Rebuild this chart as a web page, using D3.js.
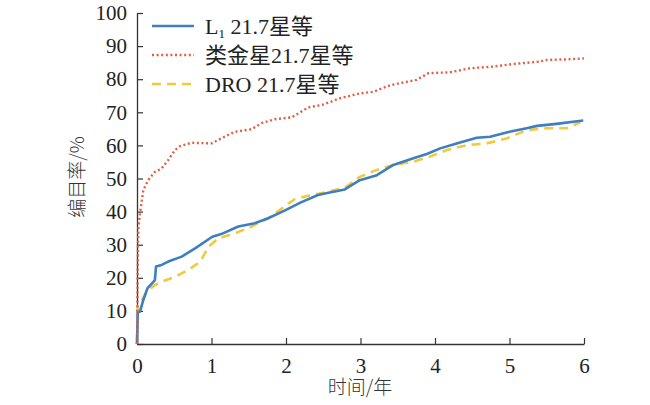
<!DOCTYPE html>
<html><head><meta charset="utf-8">
<script src="https://cdn.jsdelivr.net/npm/d3@7"></script>
<style>body{margin:0;background:#fff}svg{display:block}</style>
</head><body>
<svg id="c" width="650" height="405"></svg>
<script>
const seriesNames = ["L\u2081 21.7星等", "类金星21.7星等", "DRO 21.7星等"];
const l1X = [0,0.01,0.04,0.085,0.14,0.22,0.24,0.255,0.33,0.42,0.6,0.78,1.01,1.13,1.36,1.58,1.76,1.98,2.2,2.43,2.57,2.79,2.99,3.22,3.44,3.71,3.89,4.07,4.29,4.56,4.74,5.0,5.23,5.37,5.63,5.99];
const l1Y = [0,9.5,9.8,13.3,16.8,18.8,19.3,23.4,23.9,24.9,26.4,28.9,32.4,33.2,35.5,36.5,38,40.3,42.8,45,45.7,46.7,49.5,51.0,54.1,56.1,57.4,59.1,60.6,62.3,62.6,64.1,65.2,65.9,66.5,67.5];
const venusX = [0,0.005,0.012,0.02,0.04,0.085,0.15,0.24,0.33,0.42,0.51,0.58,0.73,1.0,1.13,1.31,1.54,1.67,1.85,2.08,2.3,2.48,2.72,2.99,3.17,3.4,3.75,3.91,4.2,4.47,4.78,5.05,5.41,5.48,5.77,6.0];
const venusY = [0,12,29.5,35,39.5,46.5,49.5,52,53,55.6,58.6,59.8,60.8,60.6,62.1,64.1,64.9,66.7,67.9,68.5,71.5,72.2,74.2,75.7,76.2,78.2,79.8,81.8,82.1,83.3,83.8,84.6,85.3,85.8,86.0,86.3];
const droX = [0,0.01,0.04,0.13,0.24,0.33,0.51,0.69,0.85,0.96,1.09,1.31,1.54,1.76,1.98,2.12,2.3,2.52,2.79,2.99,3.22,3.44,3.71,3.93,4.16,4.43,4.69,4.96,5.23,5.5,5.77,5.95];
const droY = [0,11.5,12.3,15.8,17.8,18.8,20.3,22.4,24.9,29.4,31.9,33.4,35.5,38,41.5,43.8,44.8,45.8,47.2,50.5,52.6,54.1,55.1,56.6,58.6,60.1,60.6,62.1,64.6,65.2,65.2,67.0];
const xTicks = [0,1,2,3,4,5,6];
const yTicks = [0,10,20,30,40,50,60,70,80,90,100];

const svg = d3.select("#c");
const x = d3.scaleLinear().domain([0,6]).range([137,584]);
const y = d3.scaleLinear().domain([0,100]).range([344,13]);
const serif = "'Liberation Serif','Times New Roman',serif";
const cjk = "'Noto Sans CJK SC','Noto Sans',sans-serif";

const xa = svg.append("g").attr("transform","translate(0,344)")
  .call(d3.axisBottom(x).tickValues(xTicks).tickSizeInner(-6).tickSizeOuter(0).tickPadding(14).tickFormat(d3.format("d")));
const ya = svg.append("g").attr("transform","translate(137,0)")
  .call(d3.axisLeft(y).tickValues(yTicks).tickSizeInner(-6).tickSizeOuter(0).tickPadding(10).tickFormat(d3.format("d")));
[xa,ya].forEach(a=>{
  a.select(".domain").attr("stroke","#333").attr("stroke-width",1.3);
  a.selectAll(".tick line").attr("stroke","#333").attr("stroke-width",1.2);
  a.selectAll("text").attr("font-family",serif).attr("font-size",21).attr("fill","#222");
});

const line = d3.line().x(d=>x(d[0])).y(d=>y(d[1]));
const styles = [
  {c:"#3d7fc0", w:2.6, dash:null},
  {c:"#de6048", w:2.4, dash:"2,2.6"},
  {c:"#f2c93c", w:2.6, dash:"9,6"}
];
const data = [
  d3.zip(l1X,l1Y), d3.zip(venusX,venusY), d3.zip(droX,droY)
];
[2,0,1].forEach(i=>{
  svg.append("path").datum(data[i]).attr("d",line).attr("fill","none")
    .attr("stroke",styles[i].c).attr("stroke-width",styles[i].w)
    .attr("stroke-dasharray",styles[i].dash).attr("stroke-linejoin","round");
});

// legend
const rows = [26,55,84];
rows.forEach((ry,i)=>{
  svg.append("line").attr("x1",152).attr("x2",194).attr("y1",ry).attr("y2",ry)
    .attr("stroke",styles[i].c).attr("stroke-width",styles[i].w).attr("stroke-dasharray",styles[i].dash);
});
const t0 = svg.append("text").attr("x",205).attr("y",rows[0]+8).attr("font-size",22).attr("fill","#222");
t0.append("tspan").attr("font-family",serif).text("L");
t0.append("tspan").attr("font-family",serif).attr("font-size",13).attr("dy",4).text("1");
t0.append("tspan").attr("font-family",serif).attr("dy",-4).text(" 21.7");
t0.append("tspan").attr("font-family",cjk).text("星等");
const t1 = svg.append("text").attr("x",205).attr("y",rows[1]+8).attr("font-size",22).attr("fill","#222");
t1.append("tspan").attr("font-family",cjk).text("类金星");
t1.append("tspan").attr("font-family",serif).text("21.7");
t1.append("tspan").attr("font-family",cjk).text("星等");
const t2 = svg.append("text").attr("x",205).attr("y",rows[2]+8).attr("font-size",22).attr("fill","#222");
t2.append("tspan").attr("font-family",serif).text("DRO 21.7");
t2.append("tspan").attr("font-family",cjk).text("星等");

// axis titles
svg.append("text").attr("x",360).attr("y",394).attr("text-anchor","middle")
  .attr("font-family",cjk).attr("font-size",19).attr("font-weight",300).attr("fill","#333").text("时间/年");
svg.append("text").attr("transform","translate(84,177) rotate(-90)").attr("text-anchor","middle")
  .attr("font-family",cjk).attr("font-size",19).attr("font-weight",300).attr("fill","#333").text("编目率/%");
</script>
</body></html>
